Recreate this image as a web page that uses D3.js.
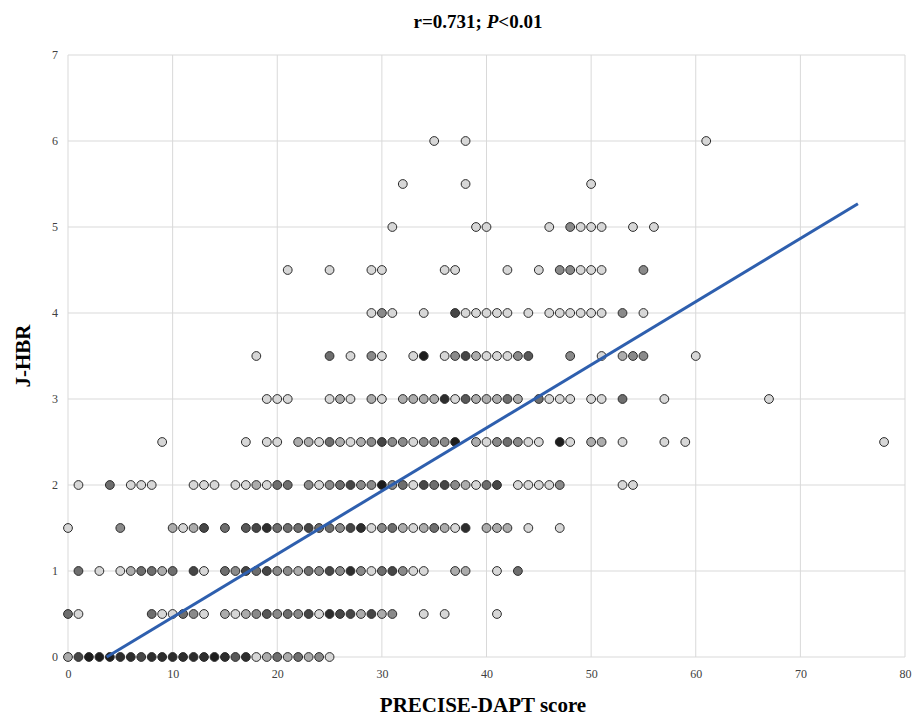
<!DOCTYPE html>
<html>
<head>
<meta charset="utf-8">
<script src="https://cdn.jsdelivr.net/npm/d3@7/dist/d3.min.js"></script>
<style>
  html, body { margin: 0; padding: 0; background: #fff; }
  svg { display: block; }
</style>
</head>
<body>
<script>
// ---- data: each row = [PRECISE-DAPT score, overlapping count] at a J-HBR level
const row0  = [[0,2],[1,6],[2,10],[3,10],[4,10],[5,8],[6,8],[7,6],[8,8],[9,8],[10,8],[11,8],[12,8],[13,8],[14,10],[15,8],[16,5],[17,8],[18,1],[19,2],[20,4],[21,2],[22,4],[23,2],[24,3],[25,1]];
const row05 = [[0,4],[1,1],[8,4],[9,1],[10,1],[11,4],[12,3],[13,1],[15,2],[16,1],[17,2],[18,3],[19,5],[20,3],[21,4],[22,3],[23,6],[24,1],[25,8],[26,6],[27,6],[28,2],[29,6],[30,2],[31,3],[34,1],[36,1],[41,1]];
const row1  = [[1,4],[3,1],[5,1],[6,2],[7,4],[8,4],[9,2],[10,4],[12,6],[13,1],[15,4],[16,3],[17,6],[18,4],[19,6],[20,3],[21,3],[22,2],[23,4],[24,3],[25,6],[26,3],[27,8],[28,3],[29,1],[30,4],[31,6],[32,3],[33,1],[34,1],[37,2],[38,2],[41,1],[43,4]];
const row15 = [[0,1],[5,3],[10,2],[11,1],[12,2],[13,6],[15,4],[17,5],[18,6],[19,8],[20,4],[21,4],[22,4],[23,6],[24,4],[25,4],[26,3],[27,6],[28,8],[29,1],[30,3],[31,4],[32,2],[33,1],[34,2],[35,4],[36,2],[37,1],[38,8],[40,2],[41,2],[42,2],[44,1],[47,1]];
const row2  = [[1,1],[4,4],[6,1],[7,1],[8,1],[12,1],[13,1],[14,1],[16,1],[17,1],[18,2],[19,1],[20,4],[21,4],[23,3],[24,1],[25,3],[26,4],[27,6],[28,3],[29,3],[30,10],[31,3],[32,4],[33,1],[34,6],[35,4],[36,6],[37,3],[38,2],[39,1],[40,4],[41,6],[43,1],[44,1],[45,1],[46,1],[47,3],[53,1],[54,1]];
const row25 = [[9,1],[17,1],[19,1],[20,1],[22,2],[23,2],[24,1],[25,4],[26,2],[27,1],[28,2],[29,3],[30,6],[31,3],[32,3],[33,1],[34,3],[35,3],[36,3],[37,10],[39,2],[40,1],[41,3],[42,4],[43,3],[44,1],[45,1],[47,10],[48,1],[50,2],[51,2],[53,1],[57,1],[59,1],[78,1]];
const row3  = [[19,1],[20,1],[21,1],[25,1],[26,2],[27,1],[29,2],[30,1],[32,2],[33,2],[34,2],[35,2],[36,8],[37,1],[38,5],[39,2],[40,2],[41,2],[42,4],[43,2],[45,4],[46,1],[47,1],[48,1],[50,1],[51,1],[53,4],[57,1],[67,1]];
const row35 = [[18,1],[25,4],[27,1],[29,3],[30,1],[33,1],[34,10],[36,1],[37,3],[38,6],[39,2],[40,1],[41,1],[42,1],[43,3],[44,5],[48,3],[51,1],[53,2],[54,3],[55,3],[60,1]];
const row4  = [[29,1],[30,3],[31,1],[34,1],[37,6],[38,1],[39,1],[40,1],[41,1],[42,1],[44,1],[46,1],[47,1],[48,1],[49,1],[50,1],[51,1],[53,3],[55,1]];
const row45 = [[21,1],[25,1],[29,1],[30,1],[36,1],[37,1],[42,1],[45,1],[47,3],[48,3],[49,1],[50,1],[51,1],[55,3]];
const row5  = [[31,1],[39,1],[40,1],[46,1],[48,3],[49,1],[50,1],[51,1],[54,1],[56,1]];
const row55 = [[32,1],[38,1],[50,1]];
const row6  = [[35,1],[38,1],[61,1]];

const rowLevels = [0, 0.5, 1, 1.5, 2, 2.5, 3, 3.5, 4, 4.5, 5, 5.5, 6];
const rows = [row0, row05, row1, row15, row2, row25, row3, row35, row4, row45, row5, row55, row6];

// linear fit line endpoints (x values) and coefficients
const fitX = [3.7, 75.5];
const fitSlope = 0.07340;
const fitIntercept = -0.2716;

const xTicks = [0, 10, 20, 30, 40, 50, 60, 70, 80];
const yTicks = [0, 1, 2, 3, 4, 5, 6, 7];

const titleMain = "r=0.731; ";
const titleP = "P";
const titleRest = "<0.01";
const xTitle = "PRECISE-DAPT score";
const yTitle = "J-HBR";

// ---- layout
const W = 914, H = 719;
const m = { left: 68, right: 9, top: 55, bottom: 62 };

const svg = d3.select("body").append("svg").attr("width", W).attr("height", H);

const x = d3.scaleLinear().domain([0, 80]).range([m.left, W - m.right]);
const y = d3.scaleLinear().domain([0, 7]).range([H - m.bottom, m.top]);

// gridlines
const grid = svg.append("g");
grid.selectAll("line.v").data(xTicks).join("line")
  .attr("x1", d => x(d)).attr("x2", d => x(d))
  .attr("y1", y(0)).attr("y2", y(7))
  .attr("stroke", "#d9d9d9").attr("stroke-width", 1);
grid.selectAll("line.h").data(yTicks).join("line")
  .attr("x1", x(0)).attr("x2", x(80))
  .attr("y1", d => y(d)).attr("y2", d => y(d))
  .attr("stroke", "#d9d9d9").attr("stroke-width", 1);

// axes labels via d3 axes
const xAxis = svg.append("g").attr("transform", `translate(0,${y(0)})`)
  .call(d3.axisBottom(x).tickValues(xTicks).tickFormat(d3.format("d")).tickSize(0).tickPadding(12));
xAxis.select(".domain").remove();
xAxis.selectAll("text").attr("font-family", "Liberation Serif, serif").attr("font-size", 12).attr("fill", "#404040");

const yAxis = svg.append("g").attr("transform", `translate(${x(0)},0)`)
  .call(d3.axisLeft(y).tickValues(yTicks).tickFormat(d3.format("d")).tickSize(0).tickPadding(10));
yAxis.select(".domain").remove();
yAxis.selectAll("text").attr("font-family", "Liberation Serif, serif").attr("font-size", 12).attr("fill", "#404040");

// points
const pts = [];
rows.forEach((r, i) => r.forEach(([px, n]) => pts.push({ x: px, y: rowLevels[i], n })));
const shade = n => { const g = Math.round(215 * Math.pow(0.8, n - 1)); return `rgb(${g},${g},${g})`; };

svg.append("g").selectAll("circle").data(pts).join("circle")
  .attr("cx", d => x(d.x)).attr("cy", d => y(d.y)).attr("r", 4.4)
  .attr("fill", d => shade(d.n))
  .attr("stroke", "#2b2b2b").attr("stroke-width", 1);

// regression line
svg.append("line")
  .attr("x1", x(fitX[0])).attr("y1", y(fitIntercept + fitSlope * fitX[0]))
  .attr("x2", x(fitX[1])).attr("y2", y(fitIntercept + fitSlope * fitX[1]))
  .attr("stroke", "#2e5fae").attr("stroke-width", 3);

// title
const t = svg.append("text").attr("x", 478).attr("y", 28).attr("text-anchor", "middle")
  .attr("font-family", "Liberation Serif, serif").attr("font-weight", "bold").attr("font-size", 19).attr("fill", "#000");
t.append("tspan").text(titleMain);
t.append("tspan").attr("font-style", "italic").text(titleP);
t.append("tspan").text(titleRest);

// axis titles
svg.append("text").attr("x", 483).attr("y", 712).attr("text-anchor", "middle")
  .attr("font-family", "Liberation Serif, serif").attr("font-weight", "bold").attr("font-size", 21).attr("fill", "#000")
  .text(xTitle);
svg.append("text").attr("transform", `translate(30,${y(3.5)}) rotate(-90)`).attr("text-anchor", "middle")
  .attr("font-family", "Liberation Serif, serif").attr("font-weight", "bold").attr("font-size", 21).attr("fill", "#000")
  .text(yTitle);
</script>
</body>
</html>
